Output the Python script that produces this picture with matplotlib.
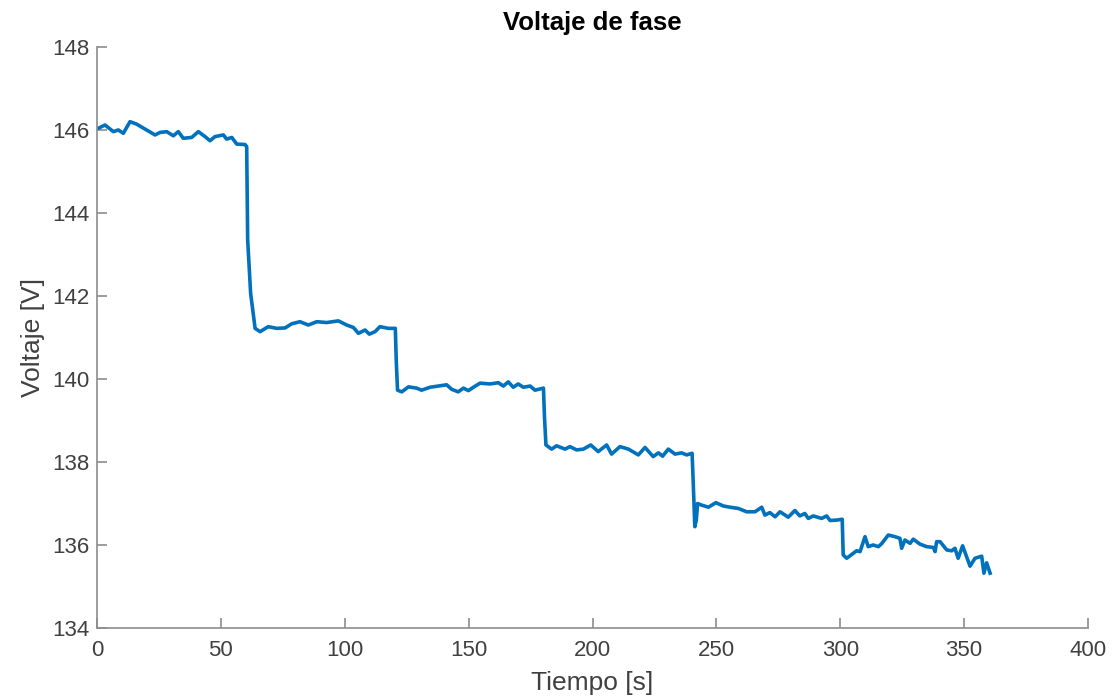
import numpy as np
import matplotlib
matplotlib.use('Agg')
from matplotlib import pylab as plt

# Voltaje de fase (tiempo en s, voltaje en V)
t = [0.0, 0.5, 3.2, 6.6, 8.6, 10.6, 13.3, 16.0, 19.4, 23.4, 25.4, 28.1, 30.8, 32.8,
     34.8, 38.2, 40.9, 43.6, 45.6, 47.6, 51.0, 52.3, 54.4, 56.4, 59.7, 60.4, 60.8,
     62.0, 63.8, 65.8, 69.1, 72.5, 75.9, 78.6, 81.9, 85.3, 88.7, 92.7, 97.4, 100.8,
     103.5, 105.5, 108.2, 109.9, 112.2, 114.2, 117.6, 120.4, 120.8, 121.3, 123.0,
     125.7, 129.0, 131.0, 134.4, 137.8, 141.1, 143.2, 145.8, 147.9, 149.9, 151.9,
     154.6, 158.6, 162.0, 164.0, 166.0, 168.0, 170.0, 172.1, 174.8, 176.8, 180.2,
     180.6, 181.2, 183.5, 185.5, 188.9, 190.9, 193.6, 196.3, 199.3, 202.3, 205.7,
     207.7, 211.1, 214.5, 218.5, 221.2, 224.5, 226.6, 228.3, 230.6, 233.3, 236.0,
     238.0, 240.2, 240.6, 241.3, 241.9, 242.4, 244.1, 246.8, 249.8, 252.8, 255.5,
     258.9, 262.2, 265.6, 268.3, 269.6, 271.6, 273.7, 275.7, 279.0, 281.7, 283.7,
     285.7, 287.1, 289.1, 292.5, 294.5, 295.9, 298.6, 300.8, 301.2, 302.6, 305.3,
     306.6, 308.0, 310.0, 311.3, 313.3, 315.4, 316.7, 319.4, 322.1, 324.1, 324.8,
     326.1, 328.2, 329.5, 332.2, 334.9, 337.6, 338.3, 338.9, 340.3, 343.0, 345.0,
     346.3, 347.6, 349.4, 352.4, 354.4, 357.1, 358.0, 359.1, 360.5]
v = [146.04, 146.04, 146.12, 145.96, 146.00, 145.92, 146.20, 146.14, 146.02, 145.88,
     145.94, 145.96, 145.86, 145.96, 145.80, 145.82, 145.96, 145.84, 145.74, 145.84,
     145.88, 145.78, 145.82, 145.66, 145.65, 145.60, 143.35, 142.06, 141.22, 141.14,
     141.26, 141.22, 141.23, 141.33, 141.38, 141.30, 141.38, 141.36, 141.40, 141.30,
     141.24, 141.10, 141.18, 141.08, 141.14, 141.26, 141.22, 141.22, 140.40, 139.73,
     139.69, 139.81, 139.78, 139.73, 139.80, 139.83, 139.86, 139.75, 139.69, 139.78,
     139.72, 139.80, 139.90, 139.88, 139.91, 139.83, 139.93, 139.80, 139.88, 139.80,
     139.83, 139.73, 139.78, 139.10, 138.41, 138.31, 138.39, 138.31, 138.37, 138.29,
     138.31, 138.41, 138.25, 138.41, 138.19, 138.37, 138.31, 138.17, 138.35, 138.13,
     138.22, 138.14, 138.31, 138.19, 138.22, 138.17, 138.21, 137.60, 136.44, 136.60,
     137.00, 136.96, 136.91, 137.02, 136.94, 136.91, 136.88, 136.80, 136.80, 136.91,
     136.72, 136.78, 136.68, 136.80, 136.67, 136.83, 136.70, 136.76, 136.64, 136.70,
     136.64, 136.70, 136.59, 136.60, 136.62, 135.76, 135.68, 135.80, 135.86, 135.84,
     136.20, 135.96, 136.00, 135.96, 136.03, 136.24, 136.20, 136.16, 135.92, 136.12,
     136.04, 136.14, 136.02, 135.96, 135.94, 135.84, 136.08, 136.08, 135.88, 135.86,
     135.92, 135.68, 135.98, 135.49, 135.68, 135.73, 135.32, 135.57, 135.32]

plt.rcParams['font.family'] = ['Liberation Sans', 'DejaVu Sans']

fig = plt.figure(figsize=(11.13, 6.99), dpi=100)
ax = fig.add_axes([0.0872, 0.1016, 0.8903, 0.8312])

ax.plot(t, v, color='#0072BD', linewidth=2.6, solid_joinstyle='round')

ax.set_xlim(0, 400)
ax.set_ylim(134, 148)
ax.set_xticks(np.arange(0, 401, 50))
ax.set_yticks(np.arange(134, 149, 2))

for s in ['top', 'right']:
    ax.spines[s].set_visible(False)
for s in ['left', 'bottom']:
    ax.spines[s].set_color('#8c8c8c')
    ax.spines[s].set_linewidth(1.2)
ax.tick_params(direction='in', length=7, width=1.2, color='#8c8c8c',
               labelcolor='#404040', labelsize=16)
ax.tick_params(axis='x', pad=9)
ax.tick_params(axis='y', pad=5.5)

ax.set_xlabel('Tiempo [s]', fontsize=19, color='#404040', labelpad=7)
ax.set_ylabel('Voltaje [V]', fontsize=19, color='#404040', labelpad=5.5)
ax.set_title('Voltaje de fase', fontsize=18.5, fontweight='bold', color='black', pad=12)

plt.savefig('out.png', dpi=100)
plt.close()
